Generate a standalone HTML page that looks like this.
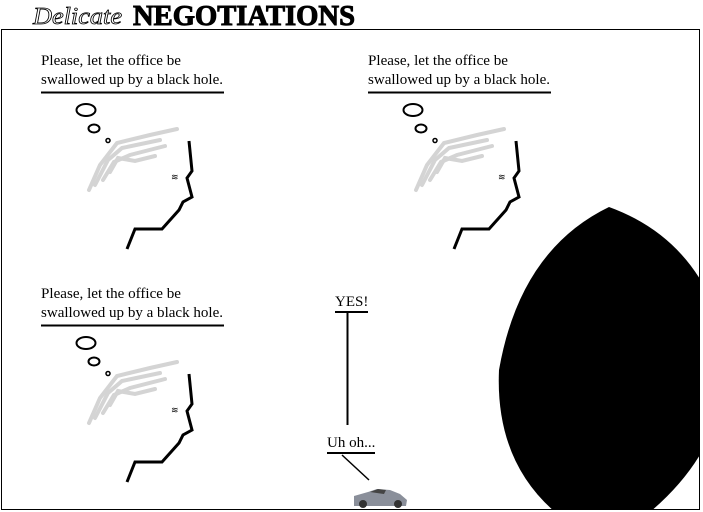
<!DOCTYPE html>
<html><head><style>body{margin:0;background:#fff}svg{display:block}</style></head><body>
<svg width="703" height="512" viewBox="0 0 703 512" xmlns="http://www.w3.org/2000/svg">
<defs><clipPath id="c"><rect x="1" y="29" width="698" height="480"/></clipPath>
<g id="p">
<text x="41" y="65" font-family="Liberation Serif" font-size="15" textLength="140" lengthAdjust="spacingAndGlyphs">Please, let the office be</text>
<text x="41" y="84" font-family="Liberation Serif" font-size="15" textLength="182" lengthAdjust="spacingAndGlyphs">swallowed up by a black hole.</text>
<line x1="41" y1="92.5" x2="224" y2="92.5" stroke="#000" stroke-width="2"/>
<ellipse cx="86" cy="110" rx="9.5" ry="6" fill="none" stroke="#000" stroke-width="2"/>
<ellipse cx="94" cy="128.5" rx="5.5" ry="4" fill="none" stroke="#000" stroke-width="2"/>
<circle cx="108" cy="140.5" r="2" fill="none" stroke="#000" stroke-width="1.5"/>
<g stroke="#d4d4d4" stroke-width="4" fill="none" stroke-linecap="round">
<path d="M89,190 L100,165 L117,143 L150,135 L177,129"/>
<path d="M95,185 L108,160 L122,148 L160,140"/>
<path d="M103,180 L114,162 L130,155 L165,146"/>
<path d="M110,172 L118,158 L135,161 L155,156"/>
</g>
<path d="M189,141 L192,171 L187,178 L192,197 L183,202 L179,210 L162,229 L135,229 L127,249" fill="none" stroke="#000" stroke-width="3"/>
<text x="171" y="180" font-family="DejaVu Sans" font-size="9">≋</text>
</g></defs>
<text x="33" y="24" font-family="Liberation Serif" font-style="italic" font-size="24" textLength="89" lengthAdjust="spacingAndGlyphs" fill="#fff" stroke="#000" stroke-width="0.8">Delicate</text>
<text x="133" y="25" font-family="Liberation Serif" font-weight="bold" font-size="28" textLength="222" lengthAdjust="spacingAndGlyphs" stroke="#000" stroke-width="1">NEGOTIATIONS</text>
<rect x="1.5" y="29.5" width="698" height="480" fill="none" stroke="#000" stroke-width="1"/>
<use href="#p"/>
<use href="#p" x="327"/>
<use href="#p" y="233"/>
<path clip-path="url(#c)" d="M609,207 Q520,250 499,370 Q495,460 555,512 L650,512 Q735,440 725,340 Q700,240 609,207Z" fill="#000"/>
<text x="335" y="306" font-family="Liberation Serif" font-size="15">YES!</text>
<line x1="335" y1="312" x2="368" y2="312" stroke="#000" stroke-width="2"/>
<line x1="347.5" y1="312" x2="347.5" y2="425" stroke="#000" stroke-width="2"/>
<text x="327" y="447" font-family="Liberation Serif" font-size="15">Uh oh...</text>
<line x1="327" y1="453" x2="375" y2="453" stroke="#000" stroke-width="2"/>
<line x1="342" y1="455" x2="369" y2="480" stroke="#000" stroke-width="1.5"/>
<g>
<path d="M354,496 L368,492 L377,489 L390,490 L400,494 L407,500 L406,506 L354,506 Z" fill="#8a8f9a"/>
<path d="M370,492 L378,489 L386,490 L384,494 Z" fill="#444"/>
<circle cx="363" cy="504" r="4" fill="#333"/><circle cx="398" cy="504" r="4" fill="#333"/>
</g>
</svg>
</body></html>
